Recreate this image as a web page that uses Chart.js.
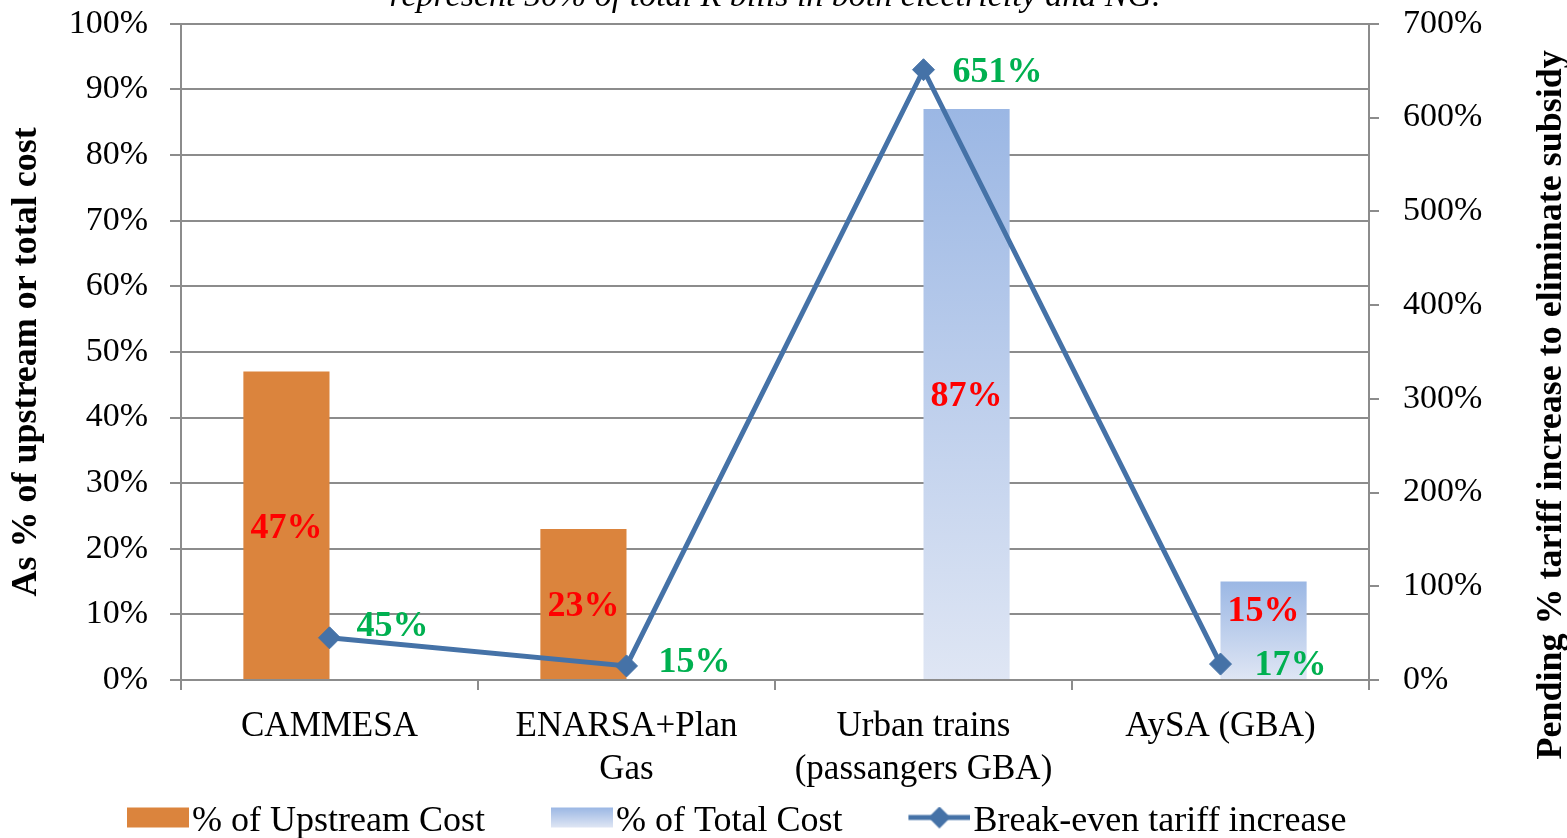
<!DOCTYPE html>
<html><head><meta charset="utf-8">
<script src="https://cdn.jsdelivr.net/npm/chart.js@4"></script>
<style>
html,body{margin:0;padding:0;background:#fff;overflow:hidden;width:1567px;height:838px;}
#wrap{position:absolute;left:0;top:-30px;width:1567px;height:1000px;}
canvas{display:block;}
</style></head><body>
<div id="wrap"><canvas id="c" width="1567" height="1000"></canvas></div>
<script>
// ---- data ----
const categories = ['CAMMESA', ['ENARSA+Plan', 'Gas'], ['Urban trains', '(passangers GBA)'], 'AySA (GBA)'];
const upstreamCost = [47, 23, null, null];
const totalCost = [null, null, 87, 15];
const breakEven = [45, 15, 651, 17];
const seriesNames = ['% of Upstream Cost', '% of Total Cost', 'Break-even tariff increase'];
const leftAxisMax = 100, leftAxisStep = 10;
const rightAxisMax = 700, rightAxisStep = 100;
const titleText = 'represent 50% of total R bills in both electricity and NG.';
const leftAxisTitle = 'As % of upstream or total cost';
const rightAxisTitle = 'Pending % tariff increase to eliminate subsidy';

// ---- style ----
const FONT = '"Liberation Serif", "Times New Roman", serif';
const GRID = '#8c8c8c';
const ORANGE = '#db843d';
const BLUE_TOP = '#9bb7e4', BLUE_BOT = '#dfe6f4';
const LINE = '#4572a7';
const barLabelDy = [3, 3, 3, -19];
const lineLabelDx = [27, 32, 29, 34];
const lineLabelDy = [-11, -3, 3, 2];

function totalGradient(ctx) {
  const chart = ctx.chart;
  if (!chart.chartArea || ctx.raw == null || !chart.scales.y) return '#bfd0ec';
  const ys = chart.scales.y;
  const top = ys.getPixelForValue(ctx.raw), bot = ys.getPixelForValue(0);
  const g = chart.ctx.createLinearGradient(0, top, 0, bot);
  g.addColorStop(0, BLUE_TOP); g.addColorStop(1, BLUE_BOT);
  return g;
}

// legend symbols: 62px wide swatch drawn at the right end of a 130px image
function makeImg(draw) {
  const c = document.createElement('canvas');
  c.width = 130; c.height = 30;
  const g = c.getContext('2d');
  g.translate(68, 0);
  draw(g);
  return c;
}
const legendImgs = [
  makeImg(g => { g.fillStyle = ORANGE; g.fillRect(0, 1, 62, 20); }),
  makeImg(g => { const gr = g.createLinearGradient(0, 1, 0, 21); gr.addColorStop(0, BLUE_TOP); gr.addColorStop(1, BLUE_BOT); g.fillStyle = gr; g.fillRect(0, 1, 62, 20); }),
  makeImg(g => {
    g.strokeStyle = LINE; g.lineWidth = 5; g.beginPath(); g.moveTo(0, 11); g.lineTo(62, 11); g.stroke();
    g.fillStyle = LINE; g.beginPath(); g.moveTo(31, 0); g.lineTo(42, 11); g.lineTo(31, 22); g.lineTo(20, 11); g.closePath(); g.fill();
  })
];

const labelPlugin = {
  id: 'valueLabels',
  afterDatasetsDraw(chart) {
    const ctx = chart.ctx;
    ctx.save();
    ctx.font = 'bold 36px ' + FONT;
    ctx.textBaseline = 'middle';
    [1, 2].forEach(di => {
      const meta = chart.getDatasetMeta(di);
      const vals = chart.data.datasets[di].data;
      meta.data.forEach((el, i) => {
        if (vals[i] == null) return;
        ctx.fillStyle = '#ff0000'; ctx.textAlign = 'center';
        ctx.fillText(vals[i] + '%', el.x, (el.y + el.base) / 2 + barLabelDy[i]);
      });
    });
    const lm = chart.getDatasetMeta(0);
    lm.data.forEach((el, i) => {
      ctx.fillStyle = '#00b050'; ctx.textAlign = 'left';
      ctx.fillText(breakEven[i] + '%', el.x + lineLabelDx[i], el.y + lineLabelDy[i]);
    });
    ctx.restore();
  },
  afterDraw(chart) {
    const ctx = chart.ctx, a = chart.chartArea;
    const mid = (a.top + a.bottom) / 2;
    ctx.save();
    ctx.font = 'bold 36px ' + FONT;
    ctx.fillStyle = '#000'; ctx.textAlign = 'center'; ctx.textBaseline = 'middle';
    ctx.save(); ctx.translate(27, mid + 10); ctx.rotate(-Math.PI / 2); ctx.fillText(leftAxisTitle, 0, 0); ctx.restore();
    ctx.save(); ctx.translate(a.right + 183, mid + 53); ctx.rotate(-Math.PI / 2); ctx.fillText(rightAxisTitle, 0, 0); ctx.restore();
    ctx.restore();
  }
};

new Chart(document.getElementById('c'), {
  data: {
    labels: categories,
    datasets: [
      { type: 'line', label: seriesNames[2], data: breakEven, yAxisID: 'y1', order: 0,
        borderColor: LINE, borderWidth: 5, tension: 0,
        pointStyle: 'rectRot', pointRadius: 11, pointBackgroundColor: LINE, pointBorderColor: LINE, pointBorderWidth: 1 },
      { type: 'bar', label: seriesNames[0], data: upstreamCost, yAxisID: 'y', order: 1,
        backgroundColor: ORANGE, categoryPercentage: 0.58, barPercentage: 1 },
      { type: 'bar', label: seriesNames[1], data: totalCost, yAxisID: 'y', order: 2,
        backgroundColor: totalGradient, categoryPercentage: 0.58, barPercentage: 1 }
    ]
  },
  options: {
    responsive: false, animation: false, devicePixelRatio: 1,
    layout: { padding: { left: 61, right: 0, top: 0, bottom: 120.5 } },
    plugins: {
      tooltip: { enabled: false },
      title: { display: true, text: titleText, fullSize: false, color: '#000',
        font: { family: FONT, size: 34, style: 'italic', weight: 'normal', lineHeight: 1.2 },
        padding: { top: 7, bottom: 6 } },
      legend: {
        position: 'bottom', align: 'start',
        labels: {
          usePointStyle: true, pointStyleWidth: 100, boxHeight: 20, padding: 13, color: '#000',
          font: { family: FONT, size: 36 },
          generateLabels: () => seriesNames.map((n, i) => ({ text: n, pointStyle: legendImgs[i], fillStyle: 'transparent', strokeStyle: 'transparent', lineWidth: 0, datasetIndex: [1, 2, 0][i] }))
        }
      }
    },
    scales: {
      x: {
        offset: true,
        grid: { drawOnChartArea: false, drawTicks: true, tickLength: 10, color: GRID, lineWidth: 2 },
        border: { display: true, color: GRID, width: 2 },
        ticks: { color: '#000', padding: 15, maxRotation: 0, autoSkip: false, font: { family: FONT, size: 35, lineHeight: 1.23 } },
        afterFit: s => { s.height = 110.5; }
      },
      y: {
        position: 'left', min: 0, max: leftAxisMax,
        ticks: { stepSize: leftAxisStep, callback: v => v + '%', color: '#000', padding: 22, font: { family: FONT, size: 34 } },
        grid: { color: GRID, lineWidth: 2, tickLength: 11, drawTicks: true },
        border: { display: true, color: GRID, width: 2 },
        afterFit: s => { s.width = 120; }
      },
      y1: {
        position: 'right', min: 0, max: rightAxisMax,
        ticks: { stepSize: rightAxisStep, callback: v => v + '%', color: '#000', padding: 24, font: { family: FONT, size: 34 } },
        grid: { drawOnChartArea: false, drawTicks: true, tickLength: 10, color: GRID, lineWidth: 2 },
        border: { display: true, color: GRID, width: 2 },
        afterFit: s => { s.width = 198; }
      }
    }
  },
  plugins: [labelPlugin]
});
</script>
</body></html>
